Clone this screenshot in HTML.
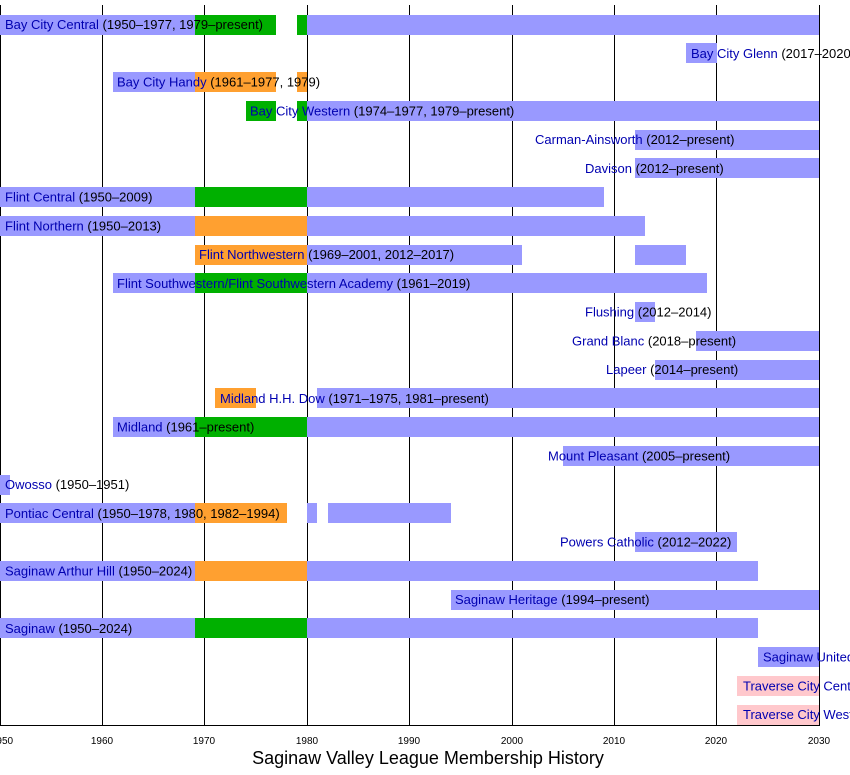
<!DOCTYPE html>
<html><head><meta charset="utf-8"><style>
html,body{margin:0;padding:0;background:#fff;}
svg{display:block;}
text{font-family:"Liberation Sans",Arial,sans-serif;}
.n{fill:#0000b0;font-size:13px;}
.y{fill:#000;}
.t{font-size:10px;fill:#000;}
</style></head><body>
<svg width="850" height="775" viewBox="0 0 850 775" xmlns="http://www.w3.org/2000/svg">
<g stroke="#000" stroke-width="1">
<line x1="0.5" y1="5" x2="0.5" y2="725"/>
<line x1="102.5" y1="5" x2="102.5" y2="725"/>
<line x1="204.5" y1="5" x2="204.5" y2="725"/>
<line x1="307.5" y1="5" x2="307.5" y2="725"/>
<line x1="409.5" y1="5" x2="409.5" y2="725"/>
<line x1="512.5" y1="5" x2="512.5" y2="725"/>
<line x1="614.5" y1="5" x2="614.5" y2="725"/>
<line x1="716.5" y1="5" x2="716.5" y2="725"/>
<line x1="819.5" y1="5" x2="819.5" y2="725"/>
<line x1="0" y1="725.5" x2="820" y2="725.5"/>
</g>
<g id="bars"></g>
<g class="t" text-anchor="middle">
<text x="2" y="744">1950</text><text x="102" y="744">1960</text><text x="204" y="744">1970</text>
<text x="307" y="744">1980</text><text x="409" y="744">1990</text><text x="512" y="744">2000</text>
<text x="614" y="744">2010</text><text x="716" y="744">2020</text><text x="819" y="744">2030</text>
</g>
<text x="428" y="764" text-anchor="middle" font-size="18">Saginaw Valley League Membership History</text>
<g id="labels"></g>
<script>
var B="#9999ff",G="#00b000",O="#ffa030",P="#ffc8cc";
function X(y){return (y-1950)*10.24;}
var rows=[
[[[1950,1969,B],[1969,1977,G],[1979,1980,G],[1980,2030,B]],5,"Bay City Central","(1950–1977, 1979–present)"],
[[[2017,2020,B]],691,"Bay City Glenn","(2017–2020)"],
[[[1961,1969,B],[1969,1977,O],[1979,1980,O]],117,"Bay City Handy","(1961–1977, 1979)"],
[[[1974,1977,G],[1979,1980,G],[1980,2030,B]],250,"Bay City Western","(1974–1977, 1979–present)"],
[[[2012,2030,B]],535,"Carman-Ainsworth","(2012–present)"],
[[[2012,2030,B]],585,"Davison","(2012–present)"],
[[[1950,1969,B],[1969,1980,G],[1980,2009,B]],5,"Flint Central","(1950–2009)"],
[[[1950,1969,B],[1969,1980,O],[1980,2013,B]],5,"Flint Northern","(1950–2013)"],
[[[1969,1980,O],[1980,2001,B],[2012,2017,B]],199,"Flint Northwestern","(1969–2001, 2012–2017)"],
[[[1961,1969,B],[1969,1980,G],[1980,2019,B]],117,"Flint Southwestern/Flint Southwestern Academy","(1961–2019)"],
[[[2012,2014,B]],585,"Flushing","(2012–2014)"],
[[[2018,2030,B]],572,"Grand Blanc","(2018–present)"],
[[[2014,2030,B]],606,"Lapeer","(2014–present)"],
[[[1971,1975,O],[1981,2030,B]],220,"Midland H.H. Dow","(1971–1975, 1981–present)"],
[[[1961,1969,B],[1969,1980,G],[1980,2030,B]],117,"Midland","(1961–present)"],
[[[2005,2030,B]],548,"Mount Pleasant","(2005–present)"],
[[[1950,1951,B]],5,"Owosso","(1950–1951)"],
[[[1950,1969,B],[1969,1978,O],[1980,1981,B],[1982,1994,B]],5,"Pontiac Central","(1950–1978, 1980, 1982–1994)"],
[[[2012,2022,B]],560,"Powers Catholic","(2012–2022)"],
[[[1950,1969,B],[1969,1980,O],[1980,2024,B]],5,"Saginaw Arthur Hill","(1950–2024)"],
[[[1994,2030,B]],455,"Saginaw Heritage","(1994–present)"],
[[[1950,1969,B],[1969,1980,G],[1980,2024,B]],5,"Saginaw","(1950–2024)"],
[[[2024,2030,B]],763,"Saginaw United","(2024–present)"],
[[[2022,2030,P]],743,"Traverse City Central","(2022–present)"],
[[[2022,2030,P]],743,"Traverse City West","(2022–present)"]
];
var ns="http://www.w3.org/2000/svg",gb=document.getElementById("bars"),gl=document.getElementById("labels");
rows.forEach(function(r,i){
 var cy=24.5+i*28.75;
 r[0].forEach(function(s){
  var e=document.createElementNS(ns,"rect");
  var x0=Math.round(X(s[0])),x1=Math.round(X(s[1]));
  e.setAttribute("x",x0);e.setAttribute("y",Math.round(cy-10));
  e.setAttribute("width",x1-x0);e.setAttribute("height",20);e.setAttribute("fill",s[2]);
  gb.appendChild(e);
 });
 var t=document.createElementNS(ns,"text");
 t.setAttribute("x",r[1]);t.setAttribute("y",cy+4.5);t.setAttribute("class","n");
 t.textContent=r[2]+" ";
 var sp=document.createElementNS(ns,"tspan");sp.setAttribute("class","y");sp.textContent=r[3];
 t.appendChild(sp);gl.appendChild(t);
});
</script>
</svg>
</body></html>
